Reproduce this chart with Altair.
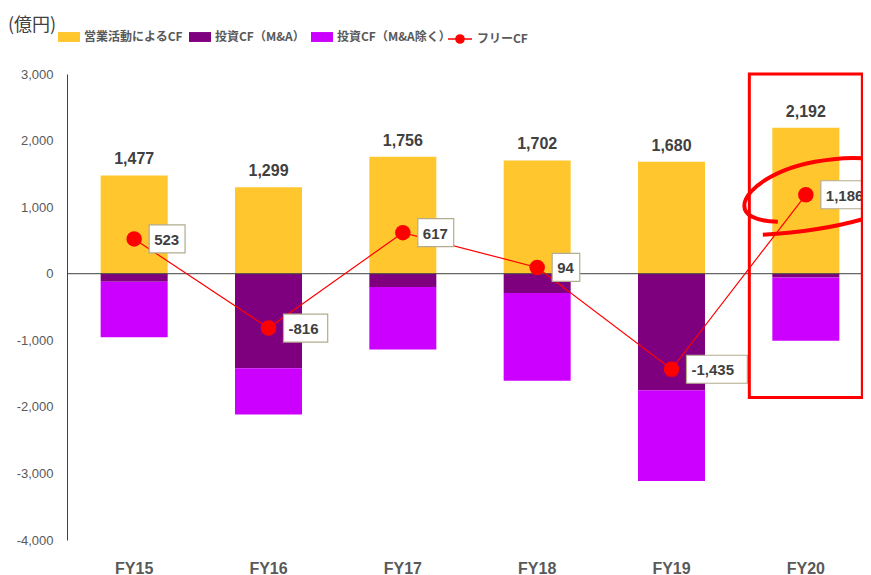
import altair as alt
import pandas as pd

# ---- data (億円) ----
years = ["FY15", "FY16", "FY17", "FY18", "FY19", "FY20"]
operating_cf = [1477, 1299, 1756, 1702, 1680, 2192]
invest_ma = [-120, -1420, -200, -290, -1750, -55]
invest_ex_ma = [-834, -695, -939, -1318, -1365, -951]
free_cf = [523, -816, 617, 94, -1435, 1186]

series_names = ["営業活動によるCF", "投資CF（M&A）", "投資CF（M&A除く）"]
series_colors = ["#FFC62E", "#7F007F", "#CC00FF"]
fcf_name = "フリーCF"
y_ticks = [-4000, -3000, -2000, -1000, 0, 1000, 2000, 3000]
highlight_year = "FY20"
highlight_range = [3000, -1860]

# ---- tables ----
rows = []
for i, yr in enumerate(years):
    rows.append({"year": yr, "series": series_names[0], "start": 0, "end": operating_cf[i]})
    rows.append({"year": yr, "series": series_names[1], "start": 0, "end": invest_ma[i]})
    rows.append({"year": yr, "series": series_names[2], "start": invest_ma[i],
                 "end": invest_ma[i] + invest_ex_ma[i]})
bars_df = pd.DataFrame(rows)

tot_df = pd.DataFrame({"year": years, "op": operating_cf,
                       "label": [f"{v:,}" for v in operating_cf]})
fcf_df = pd.DataFrame({"year": years, "fcf": free_cf,
                       "label": [f"{v:,}" for v in free_cf]})
hl_df = pd.DataFrame({"year": [highlight_year], "top": [highlight_range[0]],
                      "bottom": [highlight_range[1]]})

FONT_B = "Liberation Sans, Arial, sans-serif"
FONT_JP = "Noto Sans CJK JP, sans-serif"

x_scale = alt.Scale(domain=years, paddingInner=0, paddingOuter=0, range=[0, 806])
y_scale = alt.Scale(domain=[-4000, 3000], nice=False, zero=False)

x_enc = alt.X("year:N", scale=x_scale,
              axis=alt.Axis(title=None, domain=False, ticks=False, labelAngle=0,
                            labelFont=FONT_B, labelFontSize=16, labelFontWeight="bold",
                            labelColor="#595959", labelPadding=20))
x_plain = alt.X("year:N", scale=x_scale)

bars = alt.Chart(bars_df).mark_bar(size=67).encode(
    x=x_enc,
    y=alt.Y("start:Q", scale=y_scale,
            axis=alt.Axis(title=None, values=y_ticks, grid=False, ticks=False,
                          domainColor="#404040", labelFont=FONT_B, labelFontSize=13,
                          labelColor="#595959", labelPadding=14,
                          labelExpr="replace(format(datum.value, ','), '−', '-')")),
    y2="end:Q",
    fill=alt.Fill("series:N",
                  scale=alt.Scale(domain=series_names, range=series_colors),
                  legend=alt.Legend(title=None, orient="none", direction="horizontal",
                                    legendX=-9, legendY=-48, padding=0,
                                    symbolType="M-1,-0.45H1V0.45H-1Z", symbolSize=484,
                                    symbolStrokeWidth=0,
                                    columnPadding=6, labelOffset=4,
                                    labelFont=FONT_JP, labelFontSize=12,
                                    labelFontWeight="bold", labelColor="#595959")),
)

totals = alt.Chart(tot_df).mark_text(
    baseline="bottom", dy=-8, font=FONT_B, fontSize=16, fontWeight="bold", color="#404040"
).encode(x=x_plain, y=alt.Y("op:Q", scale=y_scale), text="label:N")

zero = alt.Chart(pd.DataFrame({"v": [0]})).mark_rule(color="#404040", strokeWidth=1).encode(
    y=alt.Y("v:Q", scale=y_scale))

line = alt.Chart(fcf_df).mark_line(strokeWidth=1.2).encode(
    x=x_plain, y=alt.Y("fcf:Q", scale=y_scale),
    stroke=alt.Stroke("name:N",
                      scale=alt.Scale(domain=[fcf_name], range=["#FF0000"]),
                      legend=alt.Legend(title=None, orient="none", legendX=380, legendY=-48,
                                        padding=0,
                                        symbolType="M-1,0H1M-0.34,0A0.34,0.34 0 1,0 0.34,0A0.34,0.34 0 1,0 -0.34,0",
                                        symbolSize=576, symbolFillColor="#FF0000",
                                        symbolStrokeWidth=1.5, labelOffset=4,
                                        labelFont=FONT_JP, labelFontSize=12,
                                        labelFontWeight="bold", labelColor="#595959")),
).transform_calculate(name=f"'{fcf_name}'")

points = alt.Chart(fcf_df).mark_circle(size=240, color="#FF0000", opacity=1).encode(
    x=x_plain, y=alt.Y("fcf:Q", scale=y_scale))

swirl = alt.Chart(fcf_df).transform_filter(f"datum.year == '{highlight_year}'").mark_point(
    shape="M-28,27C-75,26 -68,0 -35,-18C0,-38 60,-40 75,-33C110,-20 90,5 65,22C30,33 -10,38 -43,40",
    size=4, filled=False, stroke="#FF0000", strokeWidth=4, opacity=1
).encode(x=x_plain, y=alt.Y("fcf:Q", scale=y_scale))

boxes = alt.Chart(fcf_df).transform_calculate(
    path="'M15,-14H' + (15 + 8.3*length(datum.label) + 11) + 'V14H15Z'"
).mark_point(size=4, filled=True, fill="white", stroke="#B3AC8E", strokeWidth=1.2,
             opacity=1).encode(
    x=x_plain, y=alt.Y("fcf:Q", scale=y_scale),
    shape=alt.Shape("path:N", scale=None, legend=None))

box_text = alt.Chart(fcf_df).mark_text(
    align="left", baseline="middle", dx=20, dy=1, font=FONT_B, fontSize=15,
    fontWeight="bold", color="#404040"
).encode(x=x_plain, y=alt.Y("fcf:Q", scale=y_scale), text="label:N")

highlight = alt.Chart(hl_df).mark_bar(size=113, fillOpacity=0, fill="white",
                                      stroke="#FF0000", strokeWidth=3).encode(
    x=x_plain, y=alt.Y("top:Q", scale=y_scale), y2="bottom:Q")

chart = alt.layer(bars, totals, zero, line, points, swirl, boxes, box_text, highlight).properties(
    width=796, height=466,
    autosize=alt.AutoSizeParams(type="none"),
    padding={"left": 59, "top": 66, "right": 0, "bottom": 40},
    title=alt.TitleParams("(億円)", anchor="start", frame="group", dx=-59, dy=13,
                          font=FONT_JP, fontSize=18, fontWeight="normal",
                          color="#404040"),
).configure_view(strokeWidth=0)

chart.save("out.html", embed_options={"renderer": "svg", "actions": False})
